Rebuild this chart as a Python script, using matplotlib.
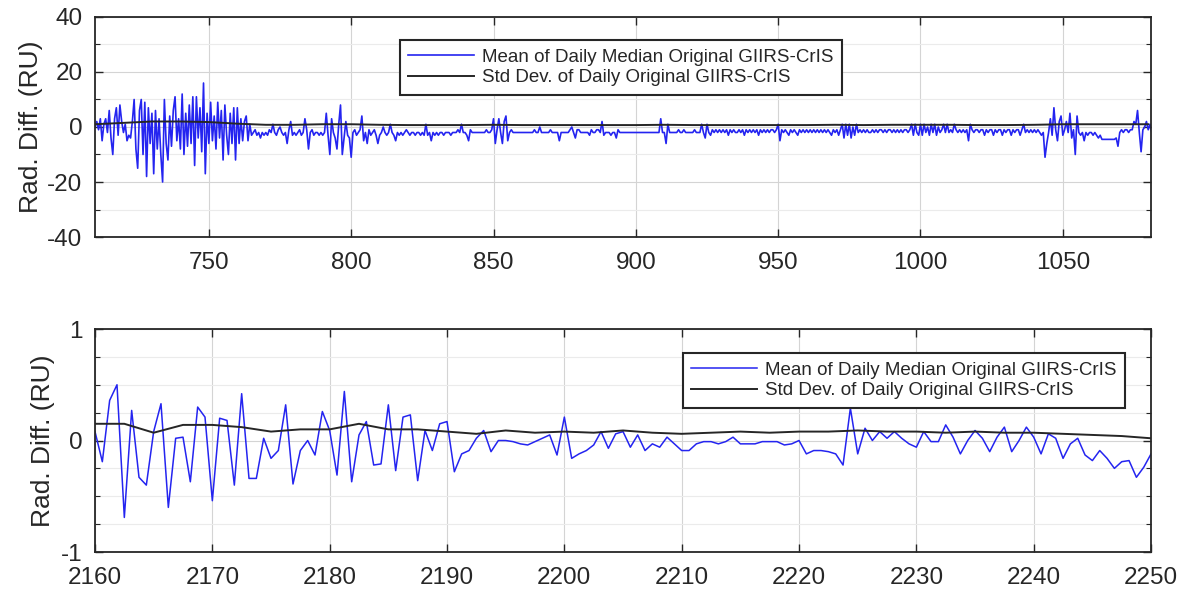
import numpy as np
import matplotlib
matplotlib.use('Agg')
import matplotlib.pyplot as plt
from matplotlib.ticker import MultipleLocator

plt.rcParams['font.family'] = ['Liberation Sans', 'DejaVu Sans']
plt.rcParams['axes.unicode_minus'] = False

MEAN_LABEL = 'Mean of Daily Median Original GIIRS-CrIS'
STD_LABEL = 'Std Dev. of Daily Original GIIRS-CrIS'

# long-wave band, 0.625 cm-1 sampling starting at 710 cm-1 (16 values per 10 cm-1)
lw_start, lw_step = 710.0, 0.625
lw_mean = [
    0, 2, -1, 3, -5, 1, 3, -2, 6, -4, -10, 3, 7, -3, 8, 2,                # 710
    -2, 1, -5, -3, -4, 2, 10, -8, -15, 6, 10, -10, 9, -18, 7, -6,         # 720
    5, -17, 6, -8, 3, -10, -20, 10, -6, -12, 4, -7, 6, 11, -5, 3,         # 730
    -8, 12, -10, 5, -7, 8, -6, 11, -14, 11, -4, 7, -9, 16, -17, 5,        # 740
    -6, 9, -5, 4, -8, 9, -4, 6, -12, 8, -3, -10, 5, -6, 7, -12,           # 750
    7, -6, 3, -5, 2, 4, -5, 1, -3, -2, -1, -3, -2, -4, -2, -3,            # 760
    -2, -3, -1, -2, 1, -2, -3, -1, 0, -2, -3, -2, -6, -1, 2, -3,          # 770
    -2, -3, -2, -1, -3, -2, 3, -1, -8, -2, -1, -3, -2, -2, -3, -2,        # 780
    -3, -2, 5, -3, -10, 3, -2, -4, -8, 1, 8, -10, -4, 2, -3, -4,          # 790
    -11, -2, -1, -3, -2, -1, 4, -5, -2, -6, -1, -3, -2, -1, -3, -6,       # 800
    -3, -2, 0, -2, -3, -2, 1, -2, -3, -5, -2, -3, -2, -3, -2, -1,         # 810
    -2, -3, -2, -2, -3, -2, -2, -3, -2, -3, 1, -3, -2, -5, -2, -3,        # 820
    -2, -3, -2, -2, -3, -2, -2, -2, -3, -2, -2, -2, -1, -2, 1, -2,        # 830
    -2, -3, -5, -1, -2, -2, -2, -2, -2, -2, -2, -2, -1, -2, -2, -1,       # 840
    3, -6, -1, 3, -2, -6, 2, 4, -5, -2, -1, -2, -2, -2, -2, -2,           # 850
    -2, -2, -2, -2, -2, -2, -2, -1, -2, -2, 0, -2, -2, -2, -2, -2,        # 860
    -1, -2, -2, -2, -2, -5, -2, -2, -2, -2, -2, -1, 0, -2, -4, -1,        # 870
    -1, -2, -2, -2, -2, -2, -3, -1, -2, -2, -1, -1, -2, 2, -3, -2,        # 880
    -2, -2, -3, -2, -2, -4, -1, -2, -2, -2, -2, -2, -2, -2, -2, -2,       # 890
    -2, -2, -2, -2, -2, -2, -2, -2, -2, -2, -2, -2, -2, -2, 3, -2,        # 900
    -2, -6, 1, -2, -2, -2, -2, -2, -1, -2, -2, -1, -2, -2, -2, -2,        # 910
    -2, -1, -2, -2, -2, 1, -2, -4, 1, -2, -3, -1, -2, -1, -2, -1,         # 920
    -2, -1, -2, -1, -3, -1, -2, -1, -2, -2, -1, -2, -1, -3, -1, -2,       # 930
    -1, -2, -1, -2, -1, -3, -1, -2, -1, -2, -1, -2, -1, -1, -2, -1,       # 940
    1, -5, -1, -2, -1, -2, -3, -1, -2, -1, -2, -3, -1, -2, -1, -2,        # 950
    -1, -2, -1, -2, -1, -2, -1, -2, -1, -2, -1, -2, -1, -2, -3, -1,       # 960
    -2, -1, -3, -1, 1, -4, 1, -3, 1, -4, 0, -3, 1, -2, -1, -2,            # 970
    -1, -2, -1, -2, -2, -1, -2, -1, -2, -1, -1, -2, -1, -2, -1, -1,       # 980
    -2, -1, -2, -1, -2, -1, -2, -1, -1, -2, -1, 1, -3, 1, -2, -3,         # 990
    1, -3, 1, -2, 0, -3, 1, -2, 1, -3, 0, -2, -1, 1, -2, 1,               # 1000
    -2, -1, -2, 1, -1, -2, -1, -2, -1, -2, -1, -5, 1, -1, -2, -1,         # 1010
    -1, -2, -1, -1, -3, -1, -2, -1, -1, -3, -1, -2, -1, -1, -3, -1,       # 1020
    -2, -1, -1, -3, -1, -2, -1, -1, -3, -1, 1, -2, -1, -2, -1, -2,        # 1030
    -1, -2, -1, -2, -3, -2, -11, -6, -2, 3, -3, 7, -1, -5, 2, 4,          # 1040
    -3, -1, 2, -2, 5, -4, -1, -10, 4, -2, -3, -2, -5, -2, -3, -2,         # 1050
    -2, -3, -2, -3, -4, -3, -4.5, -4.5, -4.5, -4.5, -4.5, -4.5, -4.5, -4.5, -4, -7,  # 1060
    -2, -1, -2, -1, -1, -2, -1, -1, 2, 1, 6, -2, -9, -1, 0, 2,            # 1070
    -1, 1, -2,                                                            # 1080
]
# std dev on a 10 cm-1 grid
lw_std_start, lw_std_step = 710.0, 10.0
lw_std = [
    1.0, 1.5, 2.0, 2.0, 1.8, 1.2, 0.8, 0.8, 1.0, 1.0,
    0.8, 0.7, 0.7, 0.7, 0.8, 0.7, 0.7, 0.7, 0.7, 0.7,
    0.8, 0.7, 0.7, 0.7, 0.7, 0.7, 0.8, 0.7, 0.8, 0.8,
    0.8, 0.7, 0.7, 0.8, 1.0, 1.0, 1.0, 1.0,
]

# short-wave band, 0.625 cm-1 sampling starting at 2160 cm-1
sw_start, sw_step = 2160.0, 0.625
sw_mean = [
    0.08, -0.19, 0.36, 0.50, -0.69, 0.27, -0.33, -0.40,
    0.08, 0.33, -0.60, 0.02, 0.03, -0.37, 0.30, 0.21,
    -0.54, 0.20, 0.18, -0.40, 0.42, -0.34, -0.34, 0.02,
    -0.16, -0.09, 0.32, -0.39, -0.09, 0.00, -0.13, 0.26,
    0.09, -0.31, 0.44, -0.37, 0.05, 0.17, -0.22, -0.21,
    0.32, -0.27, 0.21, 0.23, -0.36, 0.09, -0.09, 0.15,
    0.17, -0.28, -0.12, -0.09, 0.02, 0.09, -0.10, 0.00,
    0.00, -0.01, -0.03, -0.04, -0.01, 0.02, 0.05, -0.13,
    0.21, -0.16, -0.12, -0.09, -0.04, 0.08, -0.07, 0.06,
    0.08, -0.06, 0.05, -0.09, -0.03, -0.06, 0.03, -0.03,
    -0.09, -0.09, -0.03, -0.01, -0.01, -0.03, -0.01, 0.03,
    -0.03, -0.03, -0.03, -0.01, -0.01, -0.01, -0.04, -0.03,
    0.00, -0.12, -0.09, -0.09, -0.10, -0.12, -0.22, 0.29,
    -0.12, 0.11, 0.00, 0.08, 0.02, 0.08, 0.02, -0.03,
    -0.06, 0.08, -0.01, -0.01, 0.14, 0.03, -0.12, 0.00,
    0.09, 0.02, -0.10, 0.03, 0.12, -0.10, 0.00, 0.12,
    0.03, -0.12, 0.06, 0.02, -0.16, -0.03, 0.02, -0.13,
    -0.18, -0.09, -0.16, -0.25, -0.19, -0.18, -0.33, -0.24,
    -0.12,
]
# std dev on a 2.5 cm-1 grid
sw_std_start, sw_std_step = 2160.0, 2.5
sw_std = [
    0.15, 0.15, 0.07, 0.14, 0.14, 0.12, 0.08, 0.10, 0.10, 0.15,
    0.10, 0.10, 0.08, 0.06, 0.09, 0.07, 0.08, 0.07, 0.09, 0.07,
    0.06, 0.07, 0.08, 0.07, 0.08, 0.08, 0.09, 0.08, 0.08, 0.07,
    0.08, 0.07, 0.07, 0.06, 0.05, 0.04, 0.02,
]

BLUE = '#2424f0'
DARK = '#262626'
TEXT = '#262626'


def wavenumbers(start, step, n):
    return start + step * np.arange(n)


def style_axes(ax, yminor, tick_size=17.5):
    ax.tick_params(which='both', direction='in', top=True, right=True,
                   colors=DARK, labelcolor=TEXT, labelsize=tick_size)
    ax.tick_params(which='major', length=6, width=1.0)
    ax.tick_params(which='minor', length=3.5, width=0.8)
    ax.tick_params(axis='x', which='minor', length=0)
    ax.tick_params(axis='y', pad=9)
    ax.tick_params(axis='x', pad=11)
    ax.yaxis.set_minor_locator(MultipleLocator(yminor))
    ax.grid(True, which='major', color='#d4d4d4', linewidth=0.8)
    ax.grid(True, which='minor', axis='y', color='#ebebeb', linewidth=0.8)
    ax.set_axisbelow(True)
    for sp in ax.spines.values():
        sp.set_color(DARK)
        sp.set_linewidth(1.3)
    ax.set_ylabel('Rad. Diff. (RU)', fontsize=19, color=TEXT)


def add_legend(ax, anchor):
    leg = ax.legend(loc='upper left', bbox_to_anchor=anchor,
                    bbox_transform=ax.figure.transFigure, borderaxespad=0,
                    fontsize=13.5, frameon=True, fancybox=False,
                    edgecolor=DARK, framealpha=1.0, handlelength=3.5,
                    handletextpad=0.4, borderpad=0.45, labelspacing=0.2)
    leg.get_frame().set_linewidth(1.5)
    for t in leg.get_texts():
        t.set_color(TEXT)
    return leg


fig = plt.figure(figsize=(11.83, 5.94), dpi=100)

# long-wave panel
ax1 = fig.add_axes([0.0803, 0.601, 0.8927, 0.3704])
x_lw = wavenumbers(lw_start, lw_step, len(lw_mean))
x_lw_std = wavenumbers(lw_std_start, lw_std_step, len(lw_std))
ax1.plot(x_lw, lw_mean, color=BLUE, linewidth=1.2, label=MEAN_LABEL)
ax1.plot(x_lw_std, lw_std, color=DARK, linewidth=1.4, label=STD_LABEL)
ax1.set_xlim(710, 1081)
ax1.set_ylim(-40, 40)
ax1.set_xticks([750, 800, 850, 900, 950, 1000, 1050])
ax1.set_yticks([-40, -20, 0, 20, 40])
style_axes(ax1, 10)
ax1.yaxis.labelpad = 3
add_legend(ax1, (400 / 1183, 1 - 40 / 594))

# short-wave panel
ax2 = fig.add_axes([0.0803, 0.0707, 0.8927, 0.3754])
x_sw = wavenumbers(sw_start, sw_step, len(sw_mean))
x_sw_std = wavenumbers(sw_std_start, sw_std_step, len(sw_std))
ax2.plot(x_sw, sw_mean, color=BLUE, linewidth=1.1, label=MEAN_LABEL)
ax2.plot(x_sw_std, sw_std, color=DARK, linewidth=1.4, label=STD_LABEL)
ax2.set_xlim(2160, 2250)
ax2.set_ylim(-1, 1)
ax2.set_xticks(np.arange(2160, 2251, 10))
ax2.set_yticks([-1, 0, 1])
style_axes(ax2, 0.25)
add_legend(ax2, (683 / 1183, 1 - 353 / 594))

fig.savefig('out.png', dpi=100)
